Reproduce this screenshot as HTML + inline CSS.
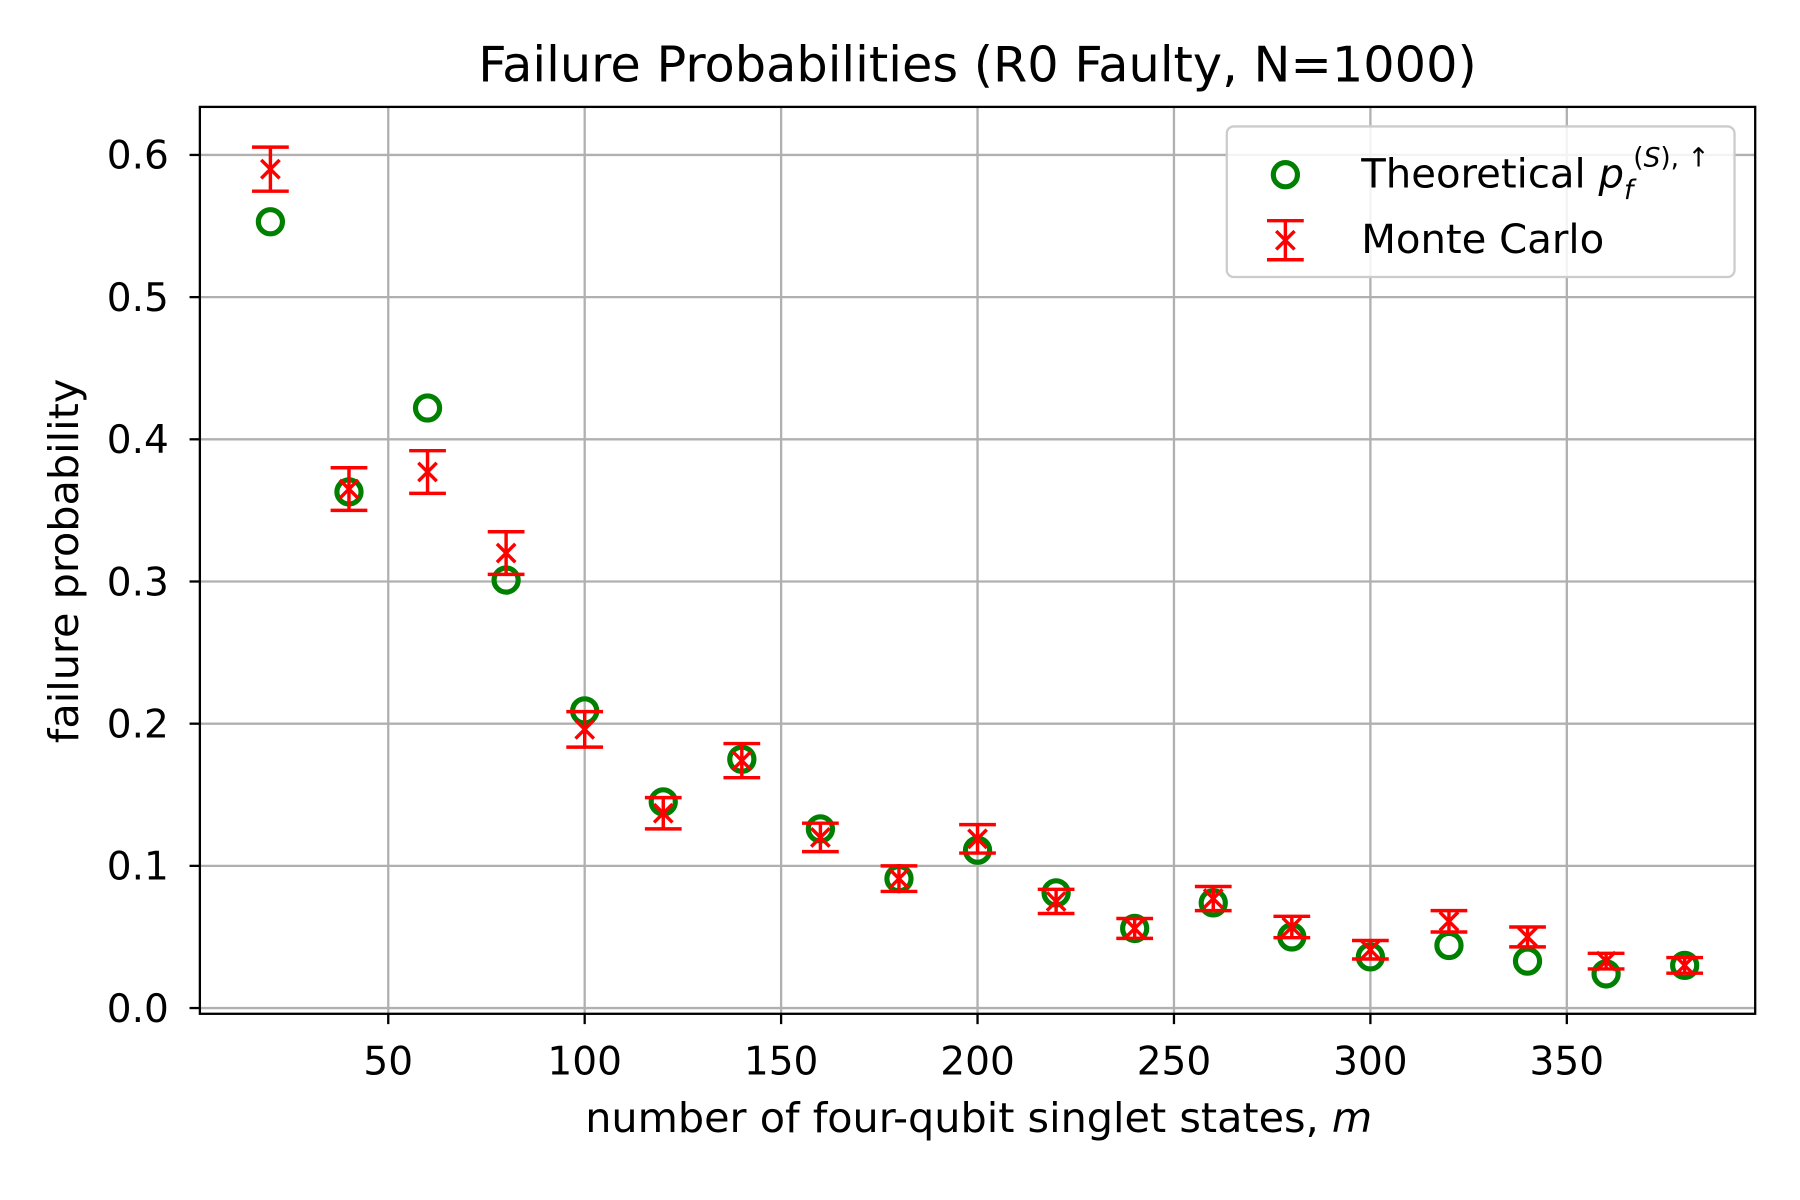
<!DOCTYPE html>
<html><head><meta charset="utf-8"><style>
html,body{margin:0;padding:0;background:#fff;width:1800px;height:1200px;overflow:hidden}
svg{display:block;font-family:"DejaVu Sans","Liberation Sans",sans-serif}
</style></head><body>
<svg id="chart" width="1800" height="1200" viewBox="0 0 1567 1044" preserveAspectRatio="none" xmlns="http://www.w3.org/2000/svg">
<g id="grid"></g>
<g id="marks"></g>
<rect x="174" y="93" width="1354" height="789" fill="none" stroke="#000" stroke-width="2"/>
<g id="ticks"></g>
<text x="851" y="71" font-size="43" text-anchor="middle">Failure Probabilities (R0 Faulty, N=1000)</text>
<text x="852" y="985" font-size="36" text-anchor="middle">number of four-qubit singlet states, <tspan font-style="italic">m</tspan></text>
<text transform="translate(68,488) rotate(-90)" font-size="36" text-anchor="middle">failure probability</text>
<g>
<rect x="1068" y="110" width="442" height="131" rx="6" fill="#fff" fill-opacity="0.85" stroke="#ccc" stroke-width="2"/>
<circle cx="1119" cy="152" r="10.5" fill="none" stroke="#008000" stroke-width="4.5"/>
<text x="1185" y="163" font-size="35">Theoretical <tspan font-style="italic">p</tspan><tspan font-style="italic" font-size="23" dy="10">f</tspan><tspan font-size="23" dy="-28">(<tspan font-style="italic">S</tspan>), ↑</tspan></text>
<g stroke="#f00" stroke-width="3">
<line x1="1119" y1="192" x2="1119" y2="226"/><line x1="1103" y1="192" x2="1135" y2="192"/><line x1="1103" y1="226" x2="1135" y2="226"/>
<line x1="1111" y1="201" x2="1127" y2="217"/><line x1="1127" y1="201" x2="1111" y2="217"/></g>
<text x="1185" y="220" font-size="35">Monte Carlo</text>
</g>
</svg>
<script>
const mValues=[20,40,60,80,100,120,140,160,180,200,220,240,260,280,300,320,340,360,380];
const theoretical=[0.553,0.363,0.422,0.301,0.209,0.145,0.175,0.126,0.091,0.111,0.081,0.056,0.074,0.050,0.036,0.044,0.033,0.024,0.030];
const monteCarlo=[0.590,0.365,0.377,0.320,0.196,0.137,0.174,0.120,0.091,0.119,0.075,0.056,0.077,0.057,0.041,0.061,0.050,0.033,0.030];
const mcError=[0.0155,0.015,0.015,0.015,0.0125,0.011,0.012,0.010,0.009,0.010,0.0085,0.007,0.0085,0.0075,0.0065,0.0075,0.007,0.0055,0.0055];
const xTicks=[50,100,150,200,250,300,350];
const yTicks=[0.0,0.1,0.2,0.3,0.4,0.5,0.6];
const NS="http://www.w3.org/2000/svg";
const X=v=>167+v*3.42;
const Y=v=>877-v*1237;
function mk(parent,tag,attrs){const e=document.createElementNS(NS,tag);for(const k in attrs)e.setAttribute(k,attrs[k]);parent.appendChild(e);return e;}
const grid=document.getElementById('grid'),ticks=document.getElementById('ticks'),marks=document.getElementById('marks');
xTicks.forEach(t=>{
 const g=mk(grid,'line',{x1:X(t),x2:X(t),y1:93,y2:882,stroke:'#b0b0b0','stroke-width':2});
 
 
 const tk=mk(ticks,'line',{x1:X(t),x2:X(t),y1:882,y2:891,stroke:'#000','stroke-width':2});
 
 
 const tx=mk(ticks,'text',{x:X(t),y:935,'font-size':34,'text-anchor':'middle'});
 
 
 tx.textContent=t;
});
yTicks.forEach(t=>{
 const g=mk(grid,'line',{x1:174,x2:1528,y1:Y(t),y2:Y(t),stroke:'#b0b0b0','stroke-width':2});
 
 
 const tk=mk(ticks,'line',{x1:165,x2:174,y1:Y(t),y2:Y(t),stroke:'#000','stroke-width':2});
 
 
 const tx=mk(ticks,'text',{x:147,y:Y(t)+12,'font-size':34,'text-anchor':'end'});
 
 
 tx.textContent=t.toFixed(1);
});
mValues.forEach((m,i)=>{
 const c=mk(marks,'circle',{cx:X(m),cy:Y(theoretical[i]),r:10.5,fill:'none',stroke:'#008000','stroke-width':4.5});
 
 
});
mValues.forEach((m,i)=>{
 const g=mk(marks,'g',{stroke:'#f00','stroke-width':3});
 
 
 const x=X(m),y=Y(monteCarlo[i]),yt=Y(monteCarlo[i]+mcError[i]),yb=Y(monteCarlo[i]-mcError[i]);
 mk(g,'line',{x1:x,x2:x,y1:yt,y2:yb});
 mk(g,'line',{x1:x-16,x2:x+16,y1:yt,y2:yt});
 mk(g,'line',{x1:x-16,x2:x+16,y1:yb,y2:yb});
 mk(g,'line',{x1:x-8,x2:x+8,y1:y-8,y2:y+8});
 mk(g,'line',{x1:x+8,x2:x-8,y1:y-8,y2:y+8});
});
</script>
</body></html>
